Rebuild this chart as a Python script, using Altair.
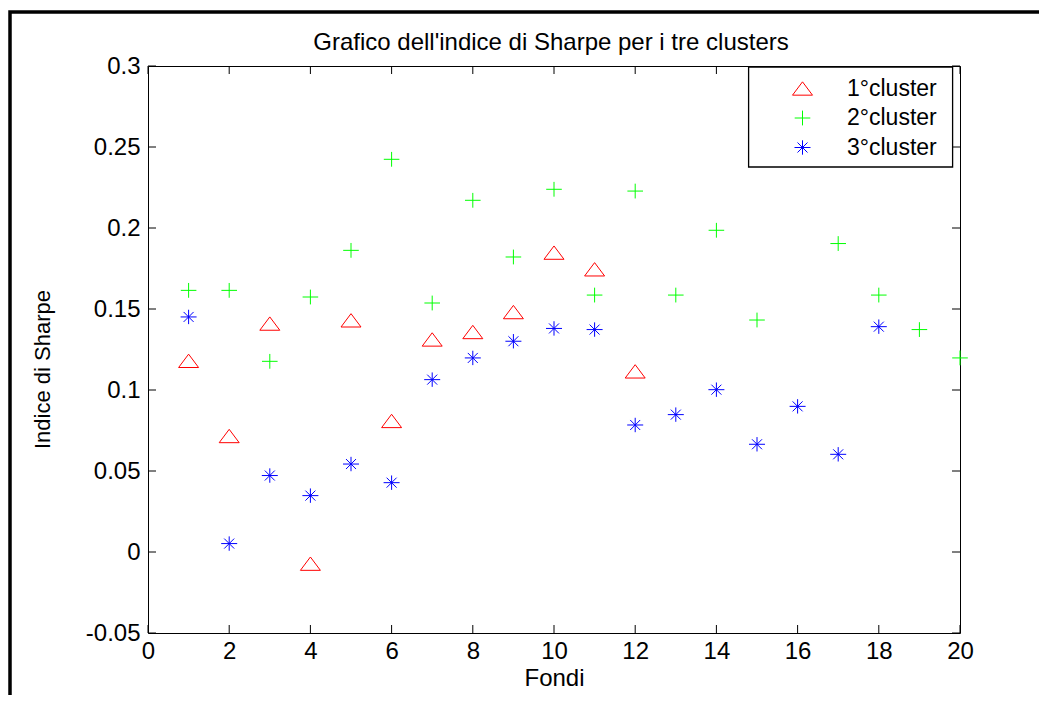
import altair as alt
import pandas as pd

# ---- data ----
clusters = ["1°cluster", "2°cluster", "3°cluster"]

fondi_c1 = [1, 2, 3, 4, 5, 6, 7, 8, 9, 10, 11, 12]
sharpe_c1 = [0.118, 0.0716, 0.141, -0.0072, 0.143, 0.0809, 0.1312, 0.1358, 0.1481, 0.1848, 0.1745, 0.1115]

fondi_c2 = [1, 2, 3, 4, 5, 6, 7, 8, 9, 10, 11, 12, 13, 14, 15, 17, 18, 19, 20]
sharpe_c2 = [0.1615, 0.1615, 0.1177, 0.1574, 0.1862, 0.2424, 0.1537, 0.2171, 0.1821, 0.2239,
             0.1586, 0.2228, 0.1586, 0.1986, 0.1432, 0.1904, 0.1586, 0.1373, 0.1198]

fondi_c3 = [1, 2, 3, 4, 5, 6, 7, 8, 9, 10, 11, 12, 13, 14, 15, 16, 17, 18]
sharpe_c3 = [0.1451, 0.0052, 0.0472, 0.0348, 0.0543, 0.0428, 0.1064, 0.1198, 0.1301, 0.138,
             0.1373, 0.0784, 0.0848, 0.1002, 0.0665, 0.0899, 0.0603, 0.1391]

x_ticks = [0, 2, 4, 6, 8, 10, 12, 14, 16, 18, 20]
y_ticks = [-0.05, 0, 0.05, 0.1, 0.15, 0.2, 0.25, 0.3]

title_text = "Grafico dell'indice di Sharpe per i tre clusters"
x_title = "Fondi"
y_title = "Indice di Sharpe"

# ---- tables ----
rows = []
for c, xs, ys in [(clusters[0], fondi_c1, sharpe_c1),
                  (clusters[1], fondi_c2, sharpe_c2),
                  (clusters[2], fondi_c3, sharpe_c3)]:
    for xv, yv in zip(xs, ys):
        rows.append({"fondo": xv, "sharpe": yv, "cluster": c})
df = pd.DataFrame(rows)
xt = pd.DataFrame({"fondo": x_ticks})
yt = pd.DataFrame({"sharpe": y_ticks})
one = pd.DataFrame({"a": [0]})

W, H = 812, 567
FONT = "Liberation Sans"
TICK = 8

sx = alt.Scale(domain=[0, 20], nice=False, zero=False)
sy = alt.Scale(domain=[-0.05, 0.3], nice=False, zero=False)

ax_x = alt.Axis(values=x_ticks, ticks=False, tickSize=0, domain=False, grid=False,
                labelFont=FONT, labelFontSize=24, labelColor="black",
                labelBaseline="alphabetic", labelPadding=25, labelFlush=False,
                labelOverlap=False, title=x_title, titleFont=FONT, titleFontSize=24,
                titleFontWeight="normal", titleColor="black", titleBaseline="alphabetic",
                titleY=52)
ax_y = alt.Axis(values=y_ticks, ticks=False, tickSize=0, domain=False, grid=False,
                labelFont=FONT, labelFontSize=24, labelColor="black",
                labelBaseline="middle", labelPadding=8, labelFlush=False,
                labelOverlap=False, labelExpr="'' + datum.value",
                title=y_title, titleFont=FONT, titleFontSize=22,
                titleFontWeight="normal", titleColor="black", titleAngle=270,
                titleAlign="center", titleBaseline="middle", titleX=-106, titleY=303)

tri = "M0,-0.667L1,0.667L-1,0.667Z"
plus = "M-0.78,0L0.78,0M0,-0.74L0,0.74"
star = "M-0.8,0L0.8,0M0,-0.72L0,0.72M-0.5,-0.5L0.5,0.5M-0.5,0.5L0.5,-0.5"

legend = alt.Legend(orient="none", legendX=643, legendY=11, title=None, padding=0,
                    labelFont=FONT, labelFontSize=23, labelColor="black",
                    labelOffset=33, rowPadding=5.5, symbolSize=400,
                    symbolStrokeWidth=1)

points = alt.Chart(df).mark_point(filled=False, strokeWidth=1, size=400, opacity=1).encode(
    x=alt.X("fondo:Q", scale=sx, axis=ax_x),
    y=alt.Y("sharpe:Q", scale=sy, axis=ax_y),
    color=alt.Color("cluster:N", scale=alt.Scale(domain=clusters,
                                                  range=["#ff0000", "#00ff00", "#0000ff"]),
                    legend=legend),
    shape=alt.Shape("cluster:N", scale=alt.Scale(domain=clusters, range=[tri, plus, star]),
                    legend=legend),
)

tick_bottom = alt.Chart(xt).mark_rule(color="black", strokeWidth=1).encode(
    x=alt.X("fondo:Q", scale=sx, axis=ax_x), y=alt.value(H), y2=alt.value(H - TICK))
tick_top = alt.Chart(xt).mark_rule(color="black", strokeWidth=1).encode(
    x=alt.X("fondo:Q", scale=sx, axis=ax_x), y=alt.value(0), y2=alt.value(TICK))
tick_left = alt.Chart(yt).mark_rule(color="black", strokeWidth=1).encode(
    y=alt.Y("sharpe:Q", scale=sy, axis=ax_y), x=alt.value(0), x2=alt.value(TICK))
tick_right = alt.Chart(yt).mark_rule(color="black", strokeWidth=1).encode(
    y=alt.Y("sharpe:Q", scale=sy, axis=ax_y), x=alt.value(W), x2=alt.value(W - TICK))

legend_box = alt.Chart(one).mark_rect(fill="white", stroke="black", strokeWidth=1.3).encode(
    x=alt.value(600.6), x2=alt.value(804.6), y=alt.value(1), y2=alt.value(101))

frame = alt.Chart(one).mark_rect(filled=False, color="black", strokeWidth=3.5).encode(
    x=alt.value(-138), x2=alt.value(1400), y=alt.value(-54), y2=alt.value(1400))

title = alt.Chart(one).mark_text(text=title_text, font=FONT, fontSize=24, color="black",
                                 align="center", baseline="alphabetic").encode(
    x=alt.value(W / 2 - 3), y=alt.value(-16))

chart = alt.layer(
    tick_bottom, tick_top, tick_left, tick_right, points, legend_box, frame, title
).properties(
    width=W, height=H,
    padding={"left": 140, "top": 58, "right": 79, "bottom": 62},
    autosize=alt.AutoSizeParams(type="none"),
    background="white",
).configure_view(stroke="black", strokeWidth=1)

chart.save("out.html", embed_options={"renderer": "svg", "actions": False})
